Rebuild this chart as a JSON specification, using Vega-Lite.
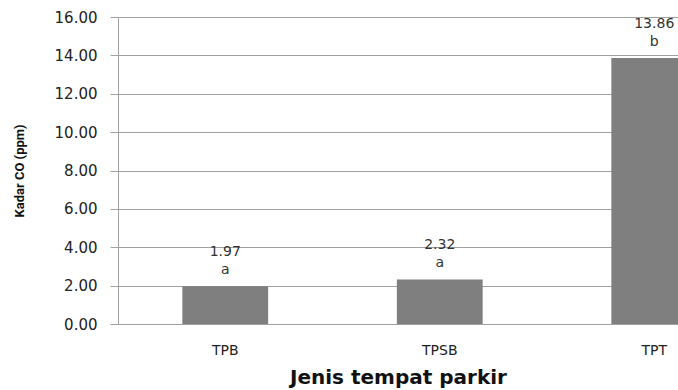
{
  "$schema": "https://vega.github.io/schema/vega-lite/v6.json",
  "autosize": {"type": "none"},
  "padding": {"left": 118, "top": 17, "right": 0, "bottom": 66},
  "width": 643.5,
  "height": 307,
  "background": "white",
  "data": {"values": [
    {"site": "TPB", "co": 1.97, "group": "a"},
    {"site": "TPSB", "co": 2.32, "group": "a"},
    {"site": "TPT", "co": 13.86, "group": "b"}
  ]},
  "encoding": {
    "x": {
      "field": "site", "type": "nominal", "sort": null,
      "scale": {"paddingInner": 0.6, "paddingOuter": 0.3},
      "axis": {
        "title": "Jenis tempat parkir", "labelAngle": 0, "ticks": false,
        "domainColor": "#a0a0a0", "labelFont": "DejaVu Sans", "labelFontSize": 14,
        "labelColor": "#222222", "labelPadding": 19,
        "titleFont": "DejaVu Sans", "titleFontSize": 20, "titleFontWeight": "bold",
        "titleColor": "#111111", "titlePadding": 10, "titleX": 280
      }
    },
    "y": {
      "field": "co", "type": "quantitative",
      "scale": {"domain": [0, 16], "nice": false},
      "axis": {
        "title": "Kadar CO (ppm)", "values": [0, 2, 4, 6, 8, 10, 12, 14, 16], "format": ".2f",
        "gridColor": "#a0a0a0", "domainColor": "#a0a0a0", "tickColor": "#a0a0a0", "tickSize": 8,
        "labelFont": "DejaVu Sans", "labelFontSize": 15, "labelColor": "#222222", "labelPadding": 13,
        "titleFont": "Roboto", "titleFontSize": 13, "titleFontWeight": "bold",
        "titleColor": "#111111", "titlePadding": 28
      }
    }
  },
  "layer": [
    {"mark": {"type": "bar", "color": "#7f7f7f"}},
    {
      "mark": {"type": "text", "font": "DejaVu Sans", "fontSize": 14, "color": "#333333", "baseline": "alphabetic", "dy": -30},
      "encoding": {"text": {"field": "co", "type": "quantitative", "format": ".2f"}}
    },
    {
      "mark": {"type": "text", "font": "DejaVu Sans", "fontSize": 14, "color": "#333333", "baseline": "alphabetic", "dy": -12},
      "encoding": {"text": {"field": "group", "type": "nominal"}}
    }
  ],
  "config": {"view": {"stroke": null}}
}
